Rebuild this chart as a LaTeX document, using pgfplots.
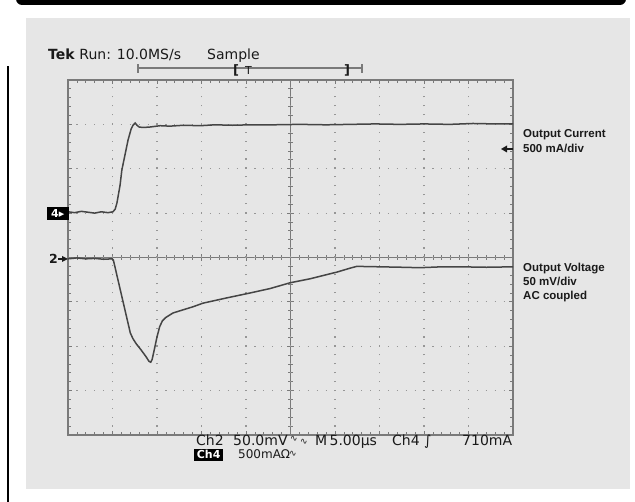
\documentclass[border=0pt]{standalone}
\usepackage{pgfplots}
\pgfplotsset{compat=1.18}
\usepackage{fontspec}
\setmainfont{DejaVu Sans}
\newfontfamily\lib{Liberation Sans}
\definecolor{panel}{HTML}{E6E6E6}
\definecolor{gridc}{HTML}{969696}
\definecolor{bordc}{HTML}{7A7A7A}
\definecolor{trace}{HTML}{454545}
\definecolor{txt}{HTML}{1A1A1A}
\begin{document}
\begin{tikzpicture}[x=1bp,y=1bp]
\useasboundingbox[fill=white] (0,0) rectangle (635,502);
\fill[black,rounded corners=6bp] (16,497) rectangle (626,515);
\fill[panel] (26,13) rectangle (630,484);
\draw[black,line width=1.6bp] (8,0) -- (8,436);
% center cross with ticks
\begin{axis}[at={(68bp,67bp)}, anchor=south west, scale only axis, width=445bp, height=355bp,
  xmin=-5,xmax=5,ymin=-4,ymax=4, axis lines=middle, axis line style={-, bordc, line width=1bp},
  xtick={-5,...,5}, ytick={-4,...,4}, minor x tick num=4, minor y tick num=4,
  xticklabels={}, yticklabels={}, tick align=center, major tick length=7bp, minor tick length=5bp,
  tick style={bordc, line width=0.8bp}]
\end{axis}
\begin{axis}[at={(68bp,67bp)}, anchor=south west, scale only axis, width=445bp, height=355bp,
  xmin=0,xmax=10,ymin=0,ymax=8, xtick={0,...,10}, ytick={0,...,8},
  minor x tick num=4, minor y tick num=4, xticklabels={}, yticklabels={},
  tick align=inside, major tick length=4bp, minor tick length=3bp,
  tick style={bordc, line width=0.8bp}, axis line style={bordc, line width=1.3bp},
  grid=major, major grid style={gridc, line width=1.2bp, dash pattern=on 1.2bp off 7.7bp, dash phase=0.6bp}]
\addplot[trace, line width=1.5bp] coordinates {
(0,5.03) (0.15,5.01) (0.3,5.04) (0.45,5.02) (0.6,5.00) (0.75,5.03) (0.9,5.01) (1.01,5.03)
(1.06,5.09) (1.10,5.23) (1.17,5.63) (1.21,5.97) (1.28,6.31) (1.35,6.65) (1.42,6.90) (1.46,6.98)
(1.51,7.03) (1.55,6.98) (1.60,6.94) (1.69,6.93) (1.84,6.94) (2.07,6.97) (2.29,6.96) (2.6,6.98)
(2.97,6.97) (3.3,6.99) (3.7,6.98) (4.09,6.99) (4.6,6.99) (5.21,7.00) (5.8,6.99) (6.34,7.00)
(6.9,7.01) (7.46,7.00) (8.0,7.01) (8.58,7.00) (9.1,7.02) (9.6,7.01) (10,7.01)};
\addplot[trace, line width=1.5bp] coordinates {
(0,3.97) (0.2,3.99) (0.4,3.97) (0.6,3.98) (0.8,3.96) (0.99,3.97) (1.02,3.94) (1.40,2.30)
(1.46,2.17) (1.53,2.06) (1.64,1.92) (1.75,1.77) (1.82,1.66) (1.86,1.64) (1.89,1.70) (1.93,1.88)
(2.0,2.21) (2.06,2.44) (2.12,2.57) (2.20,2.65) (2.36,2.75) (2.52,2.80) (2.81,2.89) (3.03,2.97)
(3.57,3.09) (4.09,3.20) (4.54,3.30) (4.99,3.43) (5.44,3.52) (6.04,3.67) (6.34,3.76) (6.49,3.80)
(7.01,3.79) (7.5,3.78) (7.91,3.77) (8.4,3.79) (8.81,3.79) (9.4,3.78) (10,3.79)};
\end{axis}
% top status line
\node[anchor=base west, inner sep=0, txt, font=\fontsize{14bp}{16bp}\selectfont] at (48,442) {\textbf{Tek} Run: 10.0MS/s};
\node[anchor=base west, inner sep=0, txt, font=\fontsize{14bp}{16bp}\selectfont] at (207,442) {Sample};
\draw[bordc, line width=1.2bp] (138,434) -- (362,434);
\draw[bordc, line width=1.2bp] (138,429) -- (138,438);
\draw[bordc, line width=1.2bp] (362,429) -- (362,438);
\node[anchor=west, inner sep=0, txt, font=\fontsize{13bp}{14bp}\selectfont\bfseries] at (233,432) {[};
\node[anchor=west, inner sep=0, txt, font=\fontsize{11bp}{12bp}\selectfont] at (245,432) {T};
\node[anchor=west, inner sep=0, txt, font=\fontsize{13bp}{14bp}\selectfont\bfseries] at (344,432) {]};
% channel markers
\node[fill=black, text=white, inner sep=0, minimum width=22bp, minimum height=13bp, anchor=east,
  font=\fontsize{11bp}{11bp}\selectfont\bfseries] at (69,288.5) {4▸};
\node[anchor=east, inner sep=0, txt, font=\fontsize{12.5bp}{12bp}\selectfont\bfseries] at (58,243) {2};
\draw[txt, line width=1.2bp] (58,243) -- (63,243);
\fill[txt] (62,240) -- (68,243) -- (62,246) -- cycle;
\draw[txt, line width=1.2bp] (506,353) -- (513,353);
\fill[txt] (501,353) -- (507,356.5) -- (507,349.5) -- cycle;
% right labels
\node[anchor=base west, inner sep=0, txt, font=\lib\bfseries\fontsize{11.5bp}{14bp}\selectfont] at (523,364) {Output Current};
\node[anchor=base west, inner sep=0, txt, font=\lib\bfseries\fontsize{11.5bp}{14bp}\selectfont] at (523,349.5) {500 mA/div};
\node[anchor=base west, inner sep=0, txt, font=\lib\bfseries\fontsize{11.5bp}{14bp}\selectfont] at (523,230) {Output Voltage};
\node[anchor=base west, inner sep=0, txt, font=\lib\bfseries\fontsize{11.5bp}{14bp}\selectfont] at (523,216) {50 mV/div};
\node[anchor=base west, inner sep=0, txt, font=\lib\bfseries\fontsize{11.5bp}{14bp}\selectfont] at (523,202.5) {AC coupled};
% bottom readout
\begin{scope}[every node/.style={anchor=base west, inner sep=0, txt, font=\fontsize{14bp}{16bp}\selectfont}]
\node at (196,56) {Ch2};
\node at (233,56) {50.0mV};
\node[font=\fontsize{9bp}{10bp}\selectfont] at (290,60) {∿};
\node[font=\fontsize{9bp}{10bp}\selectfont] at (300,57) {∿};
\node at (315,56) {M\,5.00µs};
\node at (392,56) {Ch4};
\node at (424,56) {∫};
\node at (462,56) {710mA};
\end{scope}
\node[fill=black, text=white, inner sep=0, minimum width=29bp, minimum height=12bp, anchor=south west,
  font=\fontsize{11bp}{11bp}\selectfont\bfseries] at (194,41) {Ch4};
\node[anchor=base west, inner sep=0, txt, font=\fontsize{12bp}{14bp}\selectfont] at (238,43) {500mAΩ};
\node[anchor=base west, inner sep=0, txt, font=\fontsize{9bp}{10bp}\selectfont] at (289,45) {∿};
\end{tikzpicture}
\end{document}
